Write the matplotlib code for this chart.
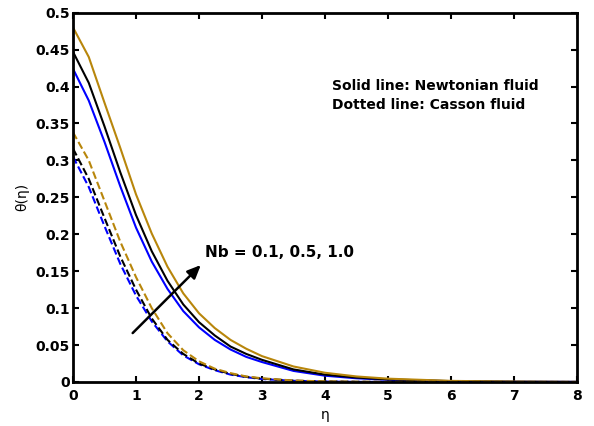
import matplotlib
matplotlib.use("Agg")
import matplotlib.pyplot as plt

plt.rcParams['font.family'] = ['DejaVu Sans']

eta = [0, 0.25, 0.5, 0.75, 1.0, 1.25, 1.5, 1.75, 2.0, 2.25, 2.5, 2.75, 3.0,
       3.5, 4.0, 4.5, 5.0, 6.0, 7.0, 8.0]

# Newtonian fluid (solid)
newt_nb01 = [0.424, 0.381, 0.325, 0.265, 0.209, 0.163, 0.126, 0.096, 0.074, 0.057,
             0.044, 0.034, 0.027, 0.015, 0.0085, 0.005, 0.003, 0.001, 0.0003, 0.0001]
newt_nb05 = [0.447, 0.405, 0.346, 0.284, 0.226, 0.177, 0.137, 0.105, 0.081, 0.063,
             0.048, 0.038, 0.030, 0.017, 0.010, 0.006, 0.0035, 0.0012, 0.0004, 0.0001]
newt_nb10 = [0.480, 0.440, 0.378, 0.317, 0.254, 0.201, 0.156, 0.120, 0.093, 0.073,
             0.057, 0.045, 0.035, 0.021, 0.0125, 0.0075, 0.0045, 0.0015, 0.0005, 0.0001]

# Casson fluid (dashed)
cass_nb01 = [0.305, 0.264, 0.211, 0.160, 0.117, 0.082, 0.055, 0.036, 0.024, 0.016,
             0.010, 0.0065, 0.004, 0.0016, 0.0006, 0.0002, 0.0001, 0.0, 0.0, 0.0]
cass_nb05 = [0.316, 0.275, 0.222, 0.170, 0.125, 0.086, 0.057, 0.038, 0.025, 0.017,
             0.011, 0.0070, 0.0045, 0.0018, 0.0007, 0.0003, 0.0001, 0.0, 0.0, 0.0]
cass_nb10 = [0.338, 0.300, 0.245, 0.190, 0.142, 0.100, 0.066, 0.043, 0.028, 0.018,
             0.012, 0.0075, 0.005, 0.002, 0.0008, 0.0003, 0.0001, 0.0, 0.0, 0.0]

xticks = [0, 1, 2, 3, 4, 5, 6, 7, 8]
yticks = [0, 0.05, 0.1, 0.15, 0.2, 0.25, 0.3, 0.35, 0.4, 0.45, 0.5]
ytick_labels = ['0', '0.05', '0.1', '0.15', '0.2', '0.25', '0.3', '0.35', '0.4', '0.45', '0.5']

blue = '#0000FF'
black = '#000000'
gold = '#B8860B'

fig = plt.figure(figsize=(5.94, 4.26), dpi=100)
ax = fig.add_axes([0.1229, 0.1033, 0.8485, 0.867])

lw = 1.5
ax.plot(eta, newt_nb01, color=blue, lw=lw)
ax.plot(eta, newt_nb05, color=black, lw=lw)
ax.plot(eta, newt_nb10, color=gold, lw=lw)
ax.plot(eta, cass_nb01, color=blue, lw=lw, ls='--')
ax.plot(eta, cass_nb05, color=black, lw=lw, ls='--')
ax.plot(eta, cass_nb10, color=gold, lw=lw, ls='--')

ax.set_xlim(0, 8)
ax.set_ylim(0, 0.5)
ax.set_xticks(xticks)
ax.set_xticklabels([str(t) for t in xticks])
ax.set_yticks(yticks)
ax.set_yticklabels(ytick_labels)
for lab in ax.get_xticklabels() + ax.get_yticklabels():
    lab.set_fontweight('bold')
    lab.set_fontsize(10)
ax.tick_params(direction='in', length=4.5, width=1.5, top=True, right=True)
ax.tick_params(axis='y', pad=2.5)
ax.tick_params(axis='x', pad=5)
for sp in ax.spines.values():
    sp.set_linewidth(2)

ax.set_xlabel('η', fontsize=10, labelpad=4)
ax.set_ylabel('θ(η)', fontsize=10, labelpad=4)

ax.text(4.11, 0.4008, 'Solid line: Newtonian fluid', fontsize=10, fontweight='bold', va='center')
ax.text(4.11, 0.375, 'Dotted line: Casson fluid', fontsize=10, fontweight='bold', va='center')

ax.annotate('', xy=(2.06, 0.161), xytext=(0.916, 0.0636),
            arrowprops=dict(arrowstyle='-|>,head_length=0.8,head_width=0.35', color='black', lw=1.8))
ax.text(2.095, 0.1747, 'Nb = 0.1, 0.5, 1.0', fontsize=11, fontweight='bold', va='center')

fig.savefig('out.png', dpi=100)
